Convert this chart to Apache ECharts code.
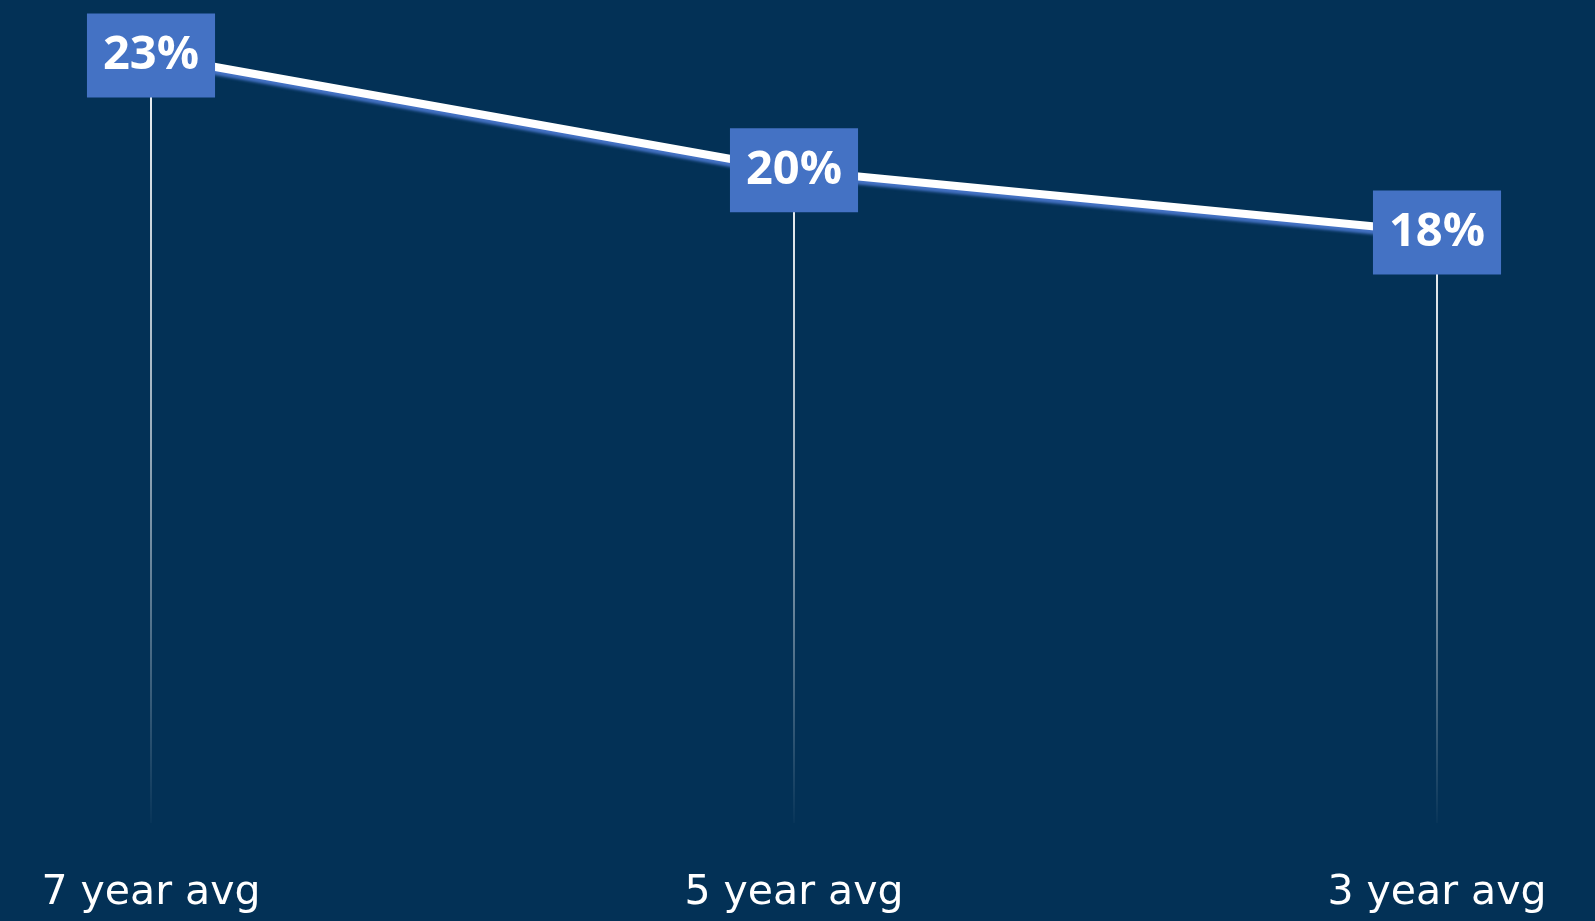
<!DOCTYPE html>
<html>
<head>
<meta charset="utf-8">
<style>
html,body{margin:0;padding:0;background:#033156;}
#chart{width:1595px;height:921px;}
</style>
<script src="https://cdn.jsdelivr.net/npm/echarts@6/dist/echarts.min.js"></script>
</head>
<body>
<div id="chart"></div>
<script>
const categories = ['7 year avg', '5 year avg', '3 year avg'];
const values = [0.234, 0.199, 0.180];

const chart = echarts.init(document.getElementById('chart'));
chart.setOption({
  backgroundColor: '#033156',
  animation: false,
  grid: { left: 151, right: 158, top: 3, bottom: 98 },
  xAxis: {
    type: 'category',
    data: categories,
    boundaryGap: false,
    axisLine: { show: false },
    axisTick: { show: false },
    axisLabel: {
      color: '#ffffff',
      fontFamily: 'DejaVu Sans',
      fontSize: 41,
      margin: 50,
      interval: 0
    },
    splitLine: { show: false }
  },
  yAxis: {
    type: 'value',
    min: 0,
    max: 0.25,
    show: false,
    splitLine: { show: false }
  },
  series: [
    {
      type: 'bar',
      data: values,
      barWidth: 2,
      z: 1,
      itemStyle: {
        color: new echarts.graphic.LinearGradient(0, 0, 0, 1, [
          { offset: 0, color: 'rgba(255,255,255,0.95)' },
          { offset: 0.5, color: 'rgba(255,255,255,0.6)' },
          { offset: 1, color: 'rgba(255,255,255,0.02)' }
        ])
      }
    },
    {
      type: 'line',
      data: values,
      z: 3,
      symbol: 'circle',
      symbolSize: 1,
      showSymbol: true,
      itemStyle: { color: 'rgba(0,0,0,0)' },
      lineStyle: {
        color: '#ffffff',
        width: 8,
        shadowColor: '#4472C4',
        shadowBlur: 3,
        shadowOffsetY: 4
      },
      label: {
        show: true,
        position: 'inside',
        formatter: p => Math.round(p.value * 100) + '%',
        color: '#ffffff',
        fontFamily: 'Open Sans',
        fontWeight: 'bold',
        fontSize: 47,
        lineHeight: 47,
        backgroundColor: '#4472C4',
        padding: [19, 16, 18, 16]
      }
    }
  ]
});
</script>
</body>
</html>
